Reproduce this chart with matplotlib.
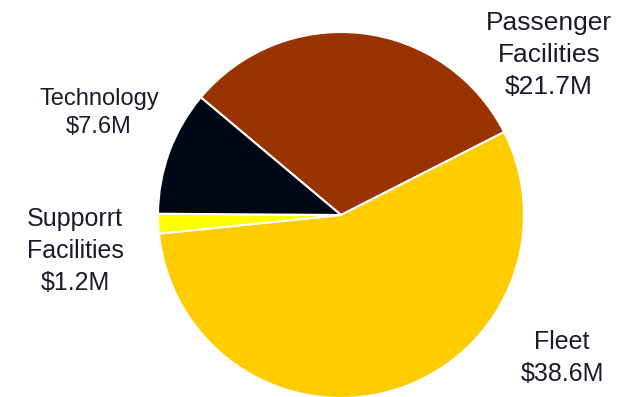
import matplotlib.pyplot as plt

labels = ["Passenger\nFacilities\n$21.7M", "Fleet\n$38.6M", "Supporrt\nFacilities\n$1.2M", "Technology\n$7.6M"]
values = [21.7, 38.6, 1.2, 7.6]
colors = ["#993300", "#FFCC00", "#FFFF00", "#000816"]

# label centres in pixels (x, y from top)
label_px = [(549, 55), (562, 358), (75, 251), (99, 113)]
label_size = [19, 18, 18, 17]

W, H = 635, 397
cx, cy, r = 341, 215, 183

fig = plt.figure(figsize=(W / 100, H / 100), dpi=100)
ax = fig.add_axes([0, 0, 1, 1])
ax.pie(values, colors=colors, startangle=140, counterclock=False, radius=1,
       wedgeprops=dict(edgecolor="white", linewidth=1.5))
ax.set_aspect("auto")
ax.set_xlim(-cx / r, (W - cx) / r)
ax.set_ylim(-(H - cy) / r, cy / r)
ax.axis("off")

for lab, (px, py), fs in zip(labels, label_px, label_size):
    ax.text((px - cx) / r, (cy - py) / r, lab, ha="center", va="center",
            fontsize=fs, color="#1b1b2b", family="Liberation Sans", linespacing=1.4)

fig.savefig("out.png", dpi=100)
